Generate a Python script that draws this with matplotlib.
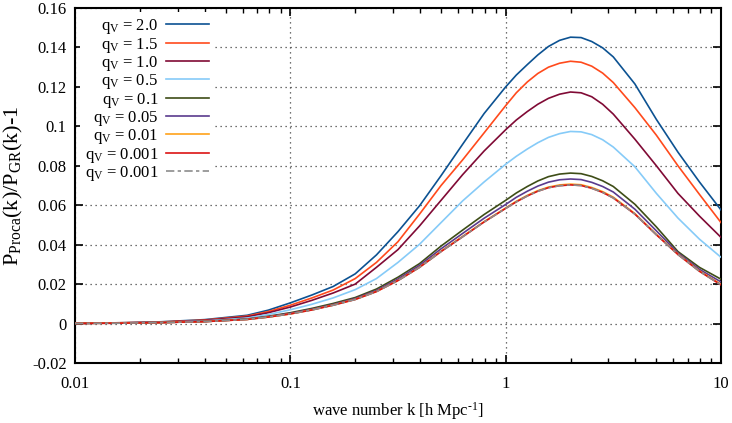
import matplotlib
matplotlib.use("Agg")
import matplotlib.pyplot as plt
from matplotlib.ticker import FixedLocator, FuncFormatter, LogLocator, NullFormatter

plt.rcParams["font.family"] = ["Liberation Serif", "DejaVu Serif"]
plt.rcParams["mathtext.fontset"] = "custom"
plt.rcParams["mathtext.rm"] = "Liberation Serif"
plt.rcParams["mathtext.it"] = "Liberation Serif:italic"

# wave numbers k [h/Mpc]
k = [0.01, 0.016, 0.025, 0.04, 0.063, 0.079, 0.1, 0.126, 0.158, 0.2, 0.251, 0.316, 0.398, 0.501,
     0.631, 0.794, 1.0, 1.12, 1.26, 1.41, 1.58, 1.78, 2.0, 2.24, 2.51, 2.82, 3.16, 3.98, 5.01,
     6.31, 7.94, 10.0]

# P_Proca/P_GR - 1
q_2p0 = [0.0001, 0.0004, 0.0009, 0.0020, 0.0042, 0.0068, 0.0105, 0.0145, 0.0188, 0.0252, 0.0348, 0.0466,
         0.0597, 0.0750, 0.0909, 0.1065, 0.1200, 0.1260, 0.1313, 0.1362, 0.1405, 0.1436, 0.1452, 0.1450,
         0.1430, 0.1398, 0.1352, 0.1215, 0.1035, 0.0869, 0.0718, 0.0576]
q_1p5 = [0.0001, 0.0004, 0.0008, 0.0018, 0.0038, 0.0061, 0.0093, 0.0130, 0.0170, 0.0228, 0.0310, 0.0415,
         0.0555, 0.0700, 0.0830, 0.0967, 0.1105, 0.1170, 0.1225, 0.1268, 0.1300, 0.1320, 0.1330, 0.1325,
         0.1305, 0.1270, 0.1222, 0.1095, 0.0955, 0.0800, 0.0655, 0.0512]
q_1p0 = [0.0001, 0.0003, 0.0007, 0.0016, 0.0034, 0.0055, 0.0084, 0.0118, 0.0155, 0.0200, 0.0285, 0.0375,
         0.0495, 0.0625, 0.0755, 0.0875, 0.0983, 0.1032, 0.1075, 0.1112, 0.1142, 0.1163, 0.1174, 0.1170,
         0.1150, 0.1112, 0.1062, 0.0935, 0.0800, 0.0660, 0.0545, 0.0437]
q_0p5 = [0.0001, 0.0003, 0.0006, 0.0013, 0.0028, 0.0046, 0.0070, 0.0098, 0.0130, 0.0172, 0.0228, 0.0310,
         0.0402, 0.0512, 0.0622, 0.0718, 0.0808, 0.0848, 0.0885, 0.0917, 0.0944, 0.0963, 0.0974, 0.0972,
         0.0958, 0.0932, 0.0895, 0.0795, 0.0660, 0.0535, 0.0428, 0.0336]
q_0p1 = [0.0001, 0.0003, 0.0005, 0.0011, 0.0023, 0.0037, 0.0055, 0.0077, 0.0102, 0.0132, 0.0175, 0.0235,
         0.0304, 0.0393, 0.0474, 0.0553, 0.0625, 0.0662, 0.0695, 0.0723, 0.0745, 0.0758, 0.0763, 0.0760,
         0.0746, 0.0724, 0.0695, 0.0605, 0.0490, 0.0365, 0.0285, 0.0225]
q_0p05 = [0.0001, 0.0002, 0.0005, 0.0010, 0.0022, 0.0035, 0.0052, 0.0073, 0.0097, 0.0127, 0.0168, 0.0226,
          0.0295, 0.0379, 0.0457, 0.0534, 0.0604, 0.0640, 0.0671, 0.0697, 0.0717, 0.0729, 0.0733, 0.0730,
          0.0716, 0.0695, 0.0667, 0.0580, 0.0470, 0.0358, 0.0275, 0.0211]
q_0p01 = [0.0001, 0.0002, 0.0005, 0.0010, 0.0021, 0.0033, 0.0049, 0.0070, 0.0094, 0.0123, 0.0163, 0.0219,
          0.0286, 0.0367, 0.0442, 0.0517, 0.0586, 0.0620, 0.0650, 0.0674, 0.0692, 0.0703, 0.0707, 0.0704,
          0.0690, 0.0669, 0.0641, 0.0558, 0.0452, 0.0352, 0.0267, 0.0199]
q_0p001 = [0.0001, 0.0002, 0.0005, 0.0010, 0.0021, 0.0033, 0.0049, 0.0069, 0.0093, 0.0122, 0.0162, 0.0218,
           0.0285, 0.0365, 0.0440, 0.0515, 0.0584, 0.0617, 0.0647, 0.0671, 0.0689, 0.0699, 0.0703, 0.0700,
           0.0686, 0.0665, 0.0637, 0.0555, 0.0450, 0.0350, 0.0265, 0.0196]

labels = ["2.0", "1.5", "1.0", "0.5", "0.1", "0.05", "0.01", "0.001", "0.001"]
colors = ["#0c5292", "#ff4a1c", "#800a35", "#86cbf8", "#3e4d17", "#5a3b8e",
          "#ffa21a", "#dc1414", "#8c8c8c"]
series = [q_2p0, q_1p5, q_1p0, q_0p5, q_0p1, q_0p05, q_0p01, q_0p001, q_0p001]

fig = plt.figure(figsize=(7.32, 4.23), dpi=100)
ax = fig.add_axes([0.1025, 0.1418, 0.8825, 0.8393])

for i, (lab, c, y) in enumerate(zip(labels, colors, series)):
    ls = (0, (5, 2, 2, 2)) if i == len(series) - 1 else "-"
    ax.plot(k, y, color=c, lw=1.2, ls=ls, label="q$_{\\rm V}$ = " + lab, zorder=3 + i)

ax.set_xscale("log")
ax.set_xlim(0.01, 10)
ax.set_ylim(-0.02, 0.16)
ax.xaxis.set_major_locator(FixedLocator([0.01, 0.1, 1, 10]))
ax.xaxis.set_minor_locator(LogLocator(base=10, subs=range(2, 10)))
ax.xaxis.set_minor_formatter(NullFormatter())
ax.yaxis.set_major_locator(FixedLocator([-0.02 + 0.02 * i for i in range(10)]))
fmt = FuncFormatter(lambda v, p: "%g" % round(v, 6))
ax.xaxis.set_major_formatter(fmt)
ax.yaxis.set_major_formatter(fmt)

ax.tick_params(which="both", direction="in", top=True, right=True, labelsize=12)
ax.tick_params(axis="x", pad=9)
ax.tick_params(axis="y", pad=6)
ax.tick_params(which="major", length=6, width=1.2)
ax.tick_params(which="minor", length=3.5, width=1.0)
for s in ax.spines.values():
    s.set_linewidth(1.5)

ax.grid(True, which="major", color="#444444", ls=(0, (1, 3)), lw=0.9)
ax.set_axisbelow(True)

ax.set_xlabel("wave number k [h Mpc$^{\\text{-1}}$]", fontsize=12, labelpad=6)
ax.set_ylabel("P$_{\\rm Proca}$(k)/P$_{\\rm GR}$(k)-1", fontsize=16, labelpad=5)

leg = ax.legend(loc="upper left", bbox_to_anchor=(0.0, 1.002), markerfirst=False, fontsize=12,
                frameon=True, handlelength=2.6, handletextpad=0.45, labelspacing=-0.04,
                borderaxespad=0.3, borderpad=0.3)
leg.get_frame().set_facecolor("white")
leg.get_frame().set_edgecolor("none")
leg.get_frame().set_alpha(1)
leg.set_zorder(20)

fig.savefig("out.png", dpi=100)
